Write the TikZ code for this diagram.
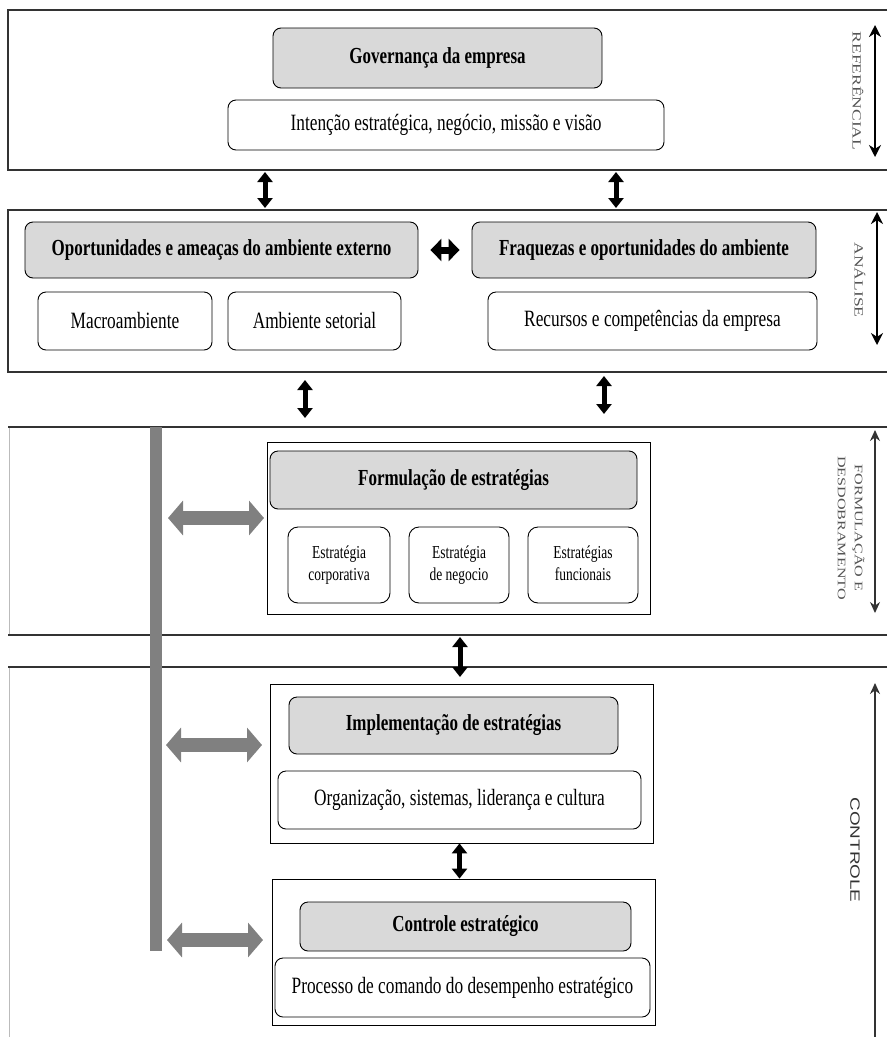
\documentclass[tikz,border=0pt]{standalone}
\usepackage{fontspec}
\usepackage{graphicx}
\setmainfont{Liberation Serif}
\newfontfamily\sansf{Liberation Sans}
\usetikzlibrary{arrows.meta}
\definecolor{boxgray}{HTML}{D9D9D9}
\definecolor{bargray}{HTML}{808080}
\definecolor{linedark}{HTML}{333333}
\definecolor{edgelight}{HTML}{BBBBBB}
\definecolor{labgray}{HTML}{555555}
\newcommand{\vt}[1]{\scalebox{1}[1.35]{#1}}
\newcommand{\lt}[1]{\scalebox{1.4}[1]{#1}}
\begin{document}
\begin{tikzpicture}[x=1pt,y=-1pt,
  hdr/.style={draw=black, line width=0.9pt, fill=boxgray, rounded corners=8pt, inner sep=0pt, font=\fontsize{17}{19}\selectfont\bfseries},
  wbox/.style={draw=black, line width=0.9pt, fill=white, rounded corners=8pt, inner sep=0pt, font=\fontsize{17.3}{19}\selectfont},
  sbox/.style={wbox, rounded corners=10pt, font=\fontsize{13.5}{16}\selectfont},
  outer/.style={draw=black, line width=0.8pt, inner sep=0pt},
  sect/.style={draw=linedark, line width=1.8pt},
  sectedge/.style={draw=edgelight, line width=1pt},
  blkarr/.style={line width=5pt, {Triangle[width=15pt,length=10pt]}-{Triangle[width=15pt,length=10pt]}},
  fatarr/.style={line width=7pt, {Triangle[width=22pt,length=11pt]}-{Triangle[width=22pt,length=11pt]}},
  grayarr/.style={draw=bargray, line width=14pt, {Triangle[width=34pt,length=15pt]}-{Triangle[width=34pt,length=15pt]}},
  sidearr/.style={line width=2pt, {Stealth[length=12pt,width=12pt]}-{Stealth[length=12pt,width=12pt]}},
  sidelab/.style={rotate=-90, text=labgray, inner sep=0pt, align=center, font=\fontsize{12.5}{17}\selectfont}
]
\useasboundingbox (0,0) rectangle (887,1037);

% ---------- section frames ----------
\draw[sect] (887,10) -- (8,10) -- (8,170) -- (887,170);
\draw[sect] (887,210) -- (8,210) -- (8,372) -- (887,372);
\draw[sectedge] (9,427) -- (9,635);
\draw[sect] (887,427) -- (8,427);
\draw[sect] (887,635) -- (8,635);
\draw[sectedge] (9,667) -- (9,1037);
\draw[sect] (887,667) -- (8,667);

% ---------- section 1 ----------
\node[hdr, minimum width=329pt, minimum height=60pt] (gov) at (437.5,58) {\vt{Governança da empresa}};
\node[wbox, minimum width=436pt, minimum height=50pt] (int) at (446,125) {\vt{Intenção estratégica, negócio, missão e visão}};

% ---------- section 2 ----------
\node[hdr, minimum width=393pt, minimum height=56pt] (opp) at (221.5,250) {\vt{Oportunidades e ameaças do ambiente externo}};
\node[hdr, minimum width=344pt, minimum height=56pt] (fraq) at (644,250) {\vt{Fraquezas e oportunidades do ambiente}};
\node[wbox, minimum width=174pt, minimum height=58pt] (macro) at (125,321) {\vt{Macroambiente}};
\node[wbox, minimum width=173pt, minimum height=58pt] (setor) at (314.5,321) {\vt{Ambiente setorial}};
\node[wbox, minimum width=329pt, minimum height=58pt] (rec) at (652.5,321) {\vt{Recursos e competências da empresa}};
\draw[fatarr] ([xshift=12pt]opp.east) -- ([xshift=-12pt]fraq.west);

% ---------- section 3 ----------
\node[outer, minimum width=383pt, minimum height=172pt] (formo) at (458.5,528) {};
\node[hdr, minimum width=367pt, minimum height=58pt] (form) at (453.5,480) {\vt{Formulação de estratégias}};
\node[sbox, minimum width=102pt, minimum height=76pt] (e1) at (339,565) {\vt{\begin{tabular}{@{}c@{}}Estratégia\\corporativa\end{tabular}}};
\node[sbox, minimum width=100pt, minimum height=76pt] (e2) at (459,565) {\vt{\begin{tabular}{@{}c@{}}Estratégia\\de negocio\end{tabular}}};
\node[sbox, minimum width=110pt, minimum height=76pt] (e3) at (583,565) {\vt{\begin{tabular}{@{}c@{}}Estratégias\\funcionais\end{tabular}}};

% ---------- section 4 ----------
\node[outer, minimum width=383pt, minimum height=159pt] (implo) at (461.5,763.5) {};
\node[hdr, minimum width=329pt, minimum height=57pt] (impl) at (453.5,725.5) {\vt{Implementação de estratégias}};
\node[wbox, minimum width=363pt, minimum height=58pt] (org) at (459.5,800) {\vt{Organização, sistemas, liderança e cultura}};
\node[outer, minimum width=383pt, minimum height=146pt] (ctrlo) at (463.5,952) {};
\node[hdr, minimum width=331pt, minimum height=49pt] (ctrl) at (465.5,926.5) {\vt{Controle estratégico}};
\node[wbox, minimum width=375pt, minimum height=59pt] (proc) at (462.5,987.5) {\vt{Processo de comando do desempenho estratégico}};
\draw[blkarr] ([xshift=-2pt]implo.south) -- ([xshift=-2pt]implo.south |- ctrlo.north);

% ---------- connectors between sections ----------
\coordinate (a1t) at (265,172); \coordinate (a1b) at (265,208);
\coordinate (a2t) at (616,172); \coordinate (a2b) at (616,208);
\coordinate (a3t) at (305,380); \coordinate (a3b) at (305,418);
\coordinate (a4t) at (604,376); \coordinate (a4b) at (604,414);
\coordinate (a5t) at (460,637); \coordinate (a5b) at (460,677);
\draw[blkarr] (a1t) -- (a1b);
\draw[blkarr] (a2t) -- (a2b);
\draw[blkarr] (a3t) -- (a3b);
\draw[blkarr] (a4t) -- (a4b);
\draw[blkarr] (a5t) -- (a5b);

% ---------- gray bar and arrows ----------
\node[fill=bargray, inner sep=0pt, minimum width=12pt, minimum height=524pt] (bar) at (155.5,689) {};
\coordinate (g1l) at (168,518); \coordinate (g1r) at (264,518);
\coordinate (g2l) at (166,745); \coordinate (g2r) at (262,745);
\coordinate (g3l) at (167,940); \coordinate (g3r) at (263,940);
\draw[grayarr] (g1l) -- (g1r);
\draw[grayarr] (g2l) -- (g2r);
\draw[grayarr] (g3l) -- (g3r);

% ---------- side labels ----------
\coordinate (r1t) at (875,25); \coordinate (r1b) at (875,157);
\draw[sidearr] (r1t) -- (r1b);
\node[sidelab] (lref) at (858,91) {\lt{REFERÊNCIAL}};
\coordinate (r2t) at (877,212); \coordinate (r2b) at (877,345);
\draw[sidearr] (r2t) -- (r2b);
\node[sidelab] (lana) at (860,280) {\lt{ANÁLISE}};
\coordinate (r3t) at (875,430); \coordinate (r3b) at (875,613);
\draw[sidearr, line width=1.2pt, draw=linedark, {Stealth[length=11pt,width=10pt]}-{Stealth[length=11pt,width=10pt]}] (r3t) -- (r3b);
\node[sidelab, font=\fontsize{11.5}{17}\selectfont] (lform) at (851,528) {\lt{FORMULAÇÃO E}\\\lt{DESDOBRAMENTO}};
\coordinate (r4t) at (875,683); \coordinate (r4b) at (875,1040);
\draw[line width=1.2pt, draw=linedark, -{Stealth[length=11pt,width=10pt]}] (r4b) -- (r4t);
\node[sidelab, text=linedark, font=\sansf\fontsize{13.5}{15}\selectfont] (lctrl) at (855,850) {\lt{CONTROLE}};
\end{tikzpicture}
\end{document}
